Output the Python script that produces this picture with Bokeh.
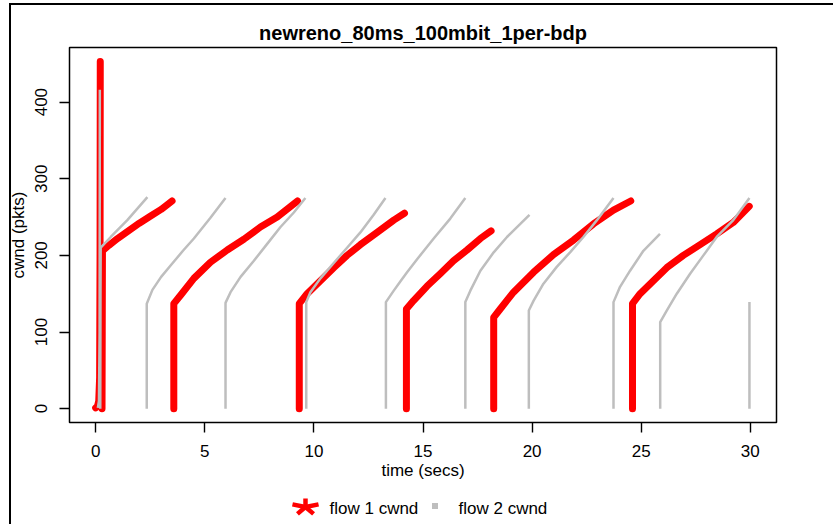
from bokeh.plotting import figure
from bokeh.layouts import column
from bokeh.models import Range1d, Label, FixedTicker
from bokeh.embed import file_html
from bokeh.resources import INLINE
import math

title_text = "newreno_80ms_100mbit_1per-bdp"
x_label = "time (secs)"
y_label = "cwnd (pkts)"
x_ticks = [0, 5, 10, 15, 20, 25, 30]
y_ticks = [0, 100, 200, 300, 400]
legend_labels = ["flow 1 cwnd", "flow 2 cwnd"]

# flow 1 cwnd, one list per unbroken run of samples
flow1_time = [
    [0.00, 0.08, 0.14, 0.18, 0.20, 0.21],
    [0.29, 0.30, 0.31, 0.60, 1.00, 1.50, 2.00, 2.50, 3.00, 3.50],
    [3.58, 3.58, 3.89, 4.50, 5.26, 6.03, 6.79, 7.55, 8.32, 9.25],
    [9.33, 9.33, 9.69, 10.30, 10.91, 11.52, 12.13, 12.90, 13.66, 14.15],
    [14.24, 14.24, 14.57, 15.19, 15.79, 16.40, 17.02, 17.63, 18.12],
    [18.24, 18.24, 18.54, 19.15, 20.07, 20.98, 21.90, 22.81, 23.73, 24.52],
    [24.60, 24.60, 24.95, 25.56, 26.17, 26.93, 27.70, 28.46, 29.22, 29.95],
]
flow1_cwnd = [
    [1, 3, 10, 40, 200, 453],
    [0, 100, 206, 213, 222, 232, 242, 251, 260, 271],
    [0, 137, 148, 170, 191, 207, 221, 237, 250, 271],
    [0, 137, 150, 167, 184, 200, 214, 230, 246, 255],
    [0, 130, 141, 160, 176, 193, 207, 222, 232],
    [0, 119, 130, 152, 178, 201, 220, 241, 259, 271],
    [0, 137, 150, 167, 184, 200, 214, 228, 243, 264],
]

# flow 2 cwnd
flow2_time = [
    [0.10, 0.15, 0.18, 0.19],
    [0.21, 0.22, 0.23, 0.69, 1.45, 2.37],
    [2.34, 2.34, 2.60, 3.00, 3.50, 4.00, 4.50, 5.26, 5.95],
    [5.95, 5.95, 6.18, 6.64, 7.25, 7.86, 8.47, 9.08, 9.61],
    [9.65, 9.65, 9.84, 10.30, 10.91, 11.52, 12.13, 12.74, 13.28],
    [13.30, 13.30, 13.66, 13.96, 14.27, 14.73, 15.49, 16.25, 16.94],
    [16.94, 16.94, 17.17, 17.63, 18.24, 18.85, 19.46, 19.88],
    [19.85, 19.85, 20.07, 20.52, 21.13, 21.74, 22.35, 22.97, 23.73],
    [23.73, 23.73, 24.03, 24.49, 25.10, 25.86],
    [25.87, 25.87, 26.17, 26.63, 27.24, 27.85, 28.46, 29.22, 29.96],
    [29.96, 29.96],
]
flow2_cwnd = [
    [1, 10, 100, 416],
    [0, 150, 210, 224, 246, 276],
    [0, 137, 155, 172, 189, 206, 222, 249, 275],
    [0, 138, 152, 172, 193, 215, 237, 256, 275],
    [0, 139, 152, 170, 190, 210, 230, 253, 275],
    [0, 139, 154, 166, 178, 195, 222, 248, 275],
    [0, 139, 154, 180, 204, 224, 241, 253],
    [0, 128, 141, 163, 185, 204, 224, 246, 275],
    [0, 139, 159, 180, 206, 228],
    [0, 113, 128, 150, 176, 200, 224, 246, 275],
    [0, 139],
]

FONT = "Liberation Sans"
RED = "#FF0000"
GRAY = "#BEBEBE"

p = figure(width=833, height=490, frame_width=707, frame_height=375,
           x_range=Range1d(-1.2, 31.2), y_range=Range1d(-18.1, 471.3),
           min_border_left=69, min_border_right=57, min_border_top=47,
           min_border_bottom=68, output_backend="svg", toolbar_location=None,
           title=title_text)

p.background_fill_color = "white"
p.border_fill_color = None
p.outline_line_color = "black"
p.outline_line_width = 1.5
p.xgrid.visible = False
p.ygrid.visible = False

p.title.align = "center"
p.title.text_font = FONT
p.title.text_font_size = "20px"
p.title.text_font_style = "bold"
p.title.text_color = "black"
p.title.standoff = 7

for ax, ticks, lab in ((p.xaxis[0], x_ticks, x_label), (p.yaxis[0], y_ticks, y_label)):
    ax.ticker = FixedTicker(ticks=ticks)
    ax.axis_label = lab
    ax.axis_line_color = None
    ax.major_tick_out = 10
    ax.major_tick_in = 0
    ax.major_tick_line_color = "black"
    ax.major_tick_line_width = 1.4
    ax.minor_tick_line_color = None
    ax.major_label_text_font = FONT
    ax.major_label_text_font_size = "17px"
    ax.major_label_text_color = "black"
    ax.axis_label_text_font = FONT
    ax.axis_label_text_font_size = "17px"
    ax.axis_label_text_font_style = "normal"
    ax.axis_label_text_color = "black"
    ax.major_label_standoff = 12

p.xaxis[0].axis_label_standoff = 1
p.yaxis[0].axis_label_standoff = 5
p.yaxis[0].major_label_orientation = "vertical"

p.multi_line(xs=flow1_time, ys=flow1_cwnd, line_color=RED, line_width=7,
             line_cap="round", line_join="round")
p.multi_line(xs=flow2_time, ys=flow2_cwnd, line_color=GRAY, line_width=2.5)

# legend strip below the plot (its coordinates are page pixels)
leg = figure(width=833, height=34, frame_width=707, frame_height=34,
             x_range=Range1d(69, 776), y_range=Range1d(524, 490),
             output_backend="svg", toolbar_location=None,
             min_border_left=69, min_border_right=57, min_border_top=0, min_border_bottom=0)
leg.axis.visible = False
leg.grid.visible = False
leg.outline_line_color = None
leg.background_fill_color = None
leg.border_fill_color = None

# legend key for flow 1: a five-armed asterisk
key_cx, key_cy, key_rx, key_ry = 305, 506.5, 13.7, 8.5
arm_xs, arm_ys = [], []
for k in range(5):
    a = math.radians(72 * k)
    arm_xs.append([key_cx, key_cx + key_rx * math.sin(a)])
    arm_ys.append([key_cy, key_cy - key_ry * math.cos(a)])
leg.multi_line(xs=arm_xs, ys=arm_ys, line_color=RED, line_width=4.5)
# legend key for flow 2: small grey square
leg.scatter(x=[434.5], y=[505.5], marker="square", size=6, fill_color=GRAY,
            line_color=None)
leg.add_layout(Label(x=329, y=508, text=legend_labels[0], text_font=FONT,
                     text_font_size="17px", text_color="black", text_align="left",
                     text_baseline="alphabetic"))
leg.add_layout(Label(x=458, y=508, text=legend_labels[1], text_font=FONT,
                     text_font_size="17px", text_color="black", text_align="left",
                     text_baseline="alphabetic"))

# thin black page frame along the top and left edges, drawn behind the figures
layout = column(p, leg, spacing=0,
                styles={"background-color": "white",
                        "background-image": "linear-gradient(#000, #000), linear-gradient(#000, #000)",
                        "background-size": "2px 521px, 824px 2px",
                        "background-position": "9px 3px, 9px 3px",
                        "background-repeat": "no-repeat"})
open("out.html", "w").write(file_html(layout, INLINE))
